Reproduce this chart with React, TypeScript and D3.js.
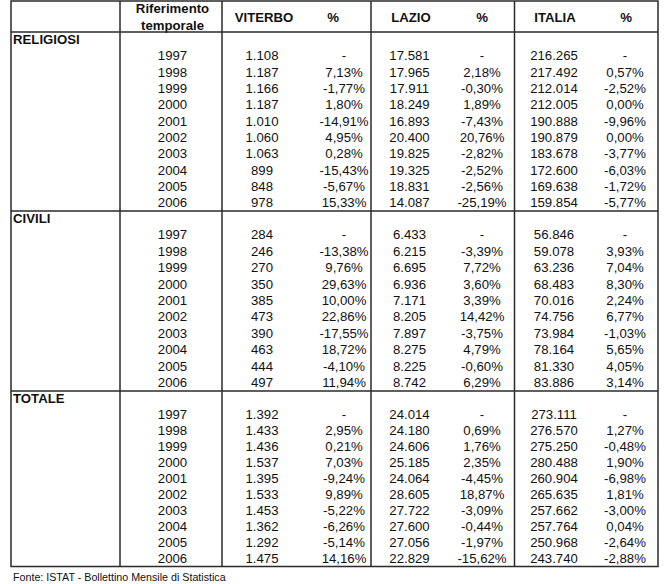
import React from "react";
import * as d3 from "d3";

const years = [1997, 1998, 1999, 2000, 2001, 2002, 2003, 2004, 2005, 2006];
const sectionNames = ["RELIGIOSI", "CIVILI", "TOTALE"];

const viterboRel = [1108, 1187, 1166, 1187, 1010, 1060, 1063, 899, 848, 978];
const viterboRelPct = [null, 7.13, -1.77, 1.8, -14.91, 4.95, 0.28, -15.43, -5.67, 15.33];
const lazioRel = [17581, 17965, 17911, 18249, 16893, 20400, 19825, 19325, 18831, 14087];
const lazioRelPct = [null, 2.18, -0.3, 1.89, -7.43, 20.76, -2.82, -2.52, -2.56, -25.19];
const italiaRel = [216265, 217492, 212014, 212005, 190888, 190879, 183678, 172600, 169638, 159854];
const italiaRelPct = [null, 0.57, -2.52, 0.0, -9.96, 0.0, -3.77, -6.03, -1.72, -5.77];

const viterboCiv = [284, 246, 270, 350, 385, 473, 390, 463, 444, 497];
const viterboCivPct = [null, -13.38, 9.76, 29.63, 10.0, 22.86, -17.55, 18.72, -4.1, 11.94];
const lazioCiv = [6433, 6215, 6695, 6936, 7171, 8205, 7897, 8275, 8225, 8742];
const lazioCivPct = [null, -3.39, 7.72, 3.6, 3.39, 14.42, -3.75, 4.79, -0.6, 6.29];
const italiaCiv = [56846, 59078, 63236, 68483, 70016, 74756, 73984, 78164, 81330, 83886];
const italiaCivPct = [null, 3.93, 7.04, 8.3, 2.24, 6.77, -1.03, 5.65, 4.05, 3.14];

const viterboTot = [1392, 1433, 1436, 1537, 1395, 1533, 1453, 1362, 1292, 1475];
const viterboTotPct = [null, 2.95, 0.21, 7.03, -9.24, 9.89, -5.22, -6.26, -5.14, 14.16];
const lazioTot = [24014, 24180, 24606, 25185, 24064, 28605, 27722, 27600, 27056, 22829];
const lazioTotPct = [null, 0.69, 1.76, 2.35, -4.45, 18.87, -3.09, -0.44, -1.97, -15.62];
const italiaTot = [273111, 276570, 275250, 280488, 260904, 265635, 257662, 257764, 250968, 243740];
const italiaTotPct = [null, 1.27, -0.48, 1.9, -6.98, 1.81, -3.0, 0.04, -2.64, -2.88];

const headers = ["VITERBO", "%", "LAZIO", "%", "ITALIA", "%"];
const source = "Fonte: ISTAT - Bollettino Mensile di Statistica";

const sections = [
  [viterboRel, viterboRelPct, lazioRel, lazioRelPct, italiaRel, italiaRelPct],
  [viterboCiv, viterboCivPct, lazioCiv, lazioCivPct, italiaCiv, italiaCivPct],
  [viterboTot, viterboTotPct, lazioTot, lazioTotPct, italiaTot, italiaTotPct],
];

const locale = d3.formatLocale({
  decimal: ",",
  thousands: ".",
  grouping: [3],
  currency: ["", "€"],
  minus: "-",
});
const fmtInt = locale.format(",d");
const fmtPct = locale.format(".2f");

const FONT = "Liberation Sans, Arial, sans-serif";
const LINE = "#2a2a2a";
const TEXT = "#111";

export default function App() {
  const W = 667;
  const H = 584;
  const left = 11;
  const right = 658;
  const top = 1;
  const headBottom = 32;
  const bottom = 566.5;
  const sectionTops = [32, 211, 391];
  const sectionBottoms = [211, 391, 566.5];
  const vlines = [120, 222, 371, 514.5];

  const colX = d3.scaleOrdinal<number, number>().domain([0, 1, 2, 3, 4, 5]).range([262, 344, 409.5, 482, 554, 625]);
  const headX = d3.scaleOrdinal<number, number>().domain([0, 1, 2, 3, 4, 5]).range([264, 333, 411, 482, 555, 626]);
  const yearX = 172.5;

  const fs = 13.2;

  return (
    <svg
      width={W}
      height={H}
      style={{ position: "absolute", left: 0, top: 0, background: "#fff" }}
      fontFamily={FONT}
    >
      <rect x={0} y={0} width={W} height={H} fill="#fff" />
      {/* header text */}
      <g fill={TEXT} fontWeight="bold" fontSize={fs} textAnchor="middle">
        <text x={yearX} y={8} dy="0.36em">Riferimento</text>
        <text x={yearX} y={25} dy="0.36em">temporale</text>
        {headers.map((h, i) => (
          <text key={i} x={headX(i)} y={17} dy="0.36em">{h}</text>
        ))}
      </g>
      {sections.map((cols, s) => {
        const t = sectionTops[s];
        const b = sectionBottoms[s];
        const y = d3.scaleLinear().domain([0, 1, 10]).range([t + 7.5, t + 23.5, b - 8.5]);
        return (
          <g key={s} fill={TEXT} fontSize={fs}>
            <text x={13} y={y(0)} dy="0.36em" fontWeight="bold">{sectionNames[s]}</text>
            {years.map((yr, i) => (
              <g key={yr} textAnchor="middle">
                <text x={yearX} y={y(i + 1)} dy="0.36em">{yr}</text>
                {cols.map((arr, c) => {
                  const v = arr[i];
                  const label = c % 2 === 0 ? fmtInt(v as number) : v == null ? "-" : fmtPct(v as number) + "%";
                  return (
                    <text key={c} x={colX(c)} y={y(i + 1)} dy="0.36em">{label}</text>
                  );
                })}
              </g>
            ))}
          </g>
        );
      })}
      {/* grid lines */}
      <g stroke={LINE} strokeWidth={1.5} fill="none">
        <rect x={left} y={top} width={right - left} height={bottom - top} />
        <line x1={left} x2={right} y1={headBottom} y2={headBottom} />
        {sectionTops.slice(1).map((yy, i) => (
          <line key={i} x1={left} x2={right} y1={yy} y2={yy} />
        ))}
        {vlines.map((xx, i) => (
          <line key={i} x1={xx} x2={xx} y1={top} y2={bottom} />
        ))}
      </g>
      <text x={13} y={577} dy="0.36em" fontSize={10.7} fill={TEXT} fontFamily={FONT}>{source}</text>
    </svg>
  );
}
